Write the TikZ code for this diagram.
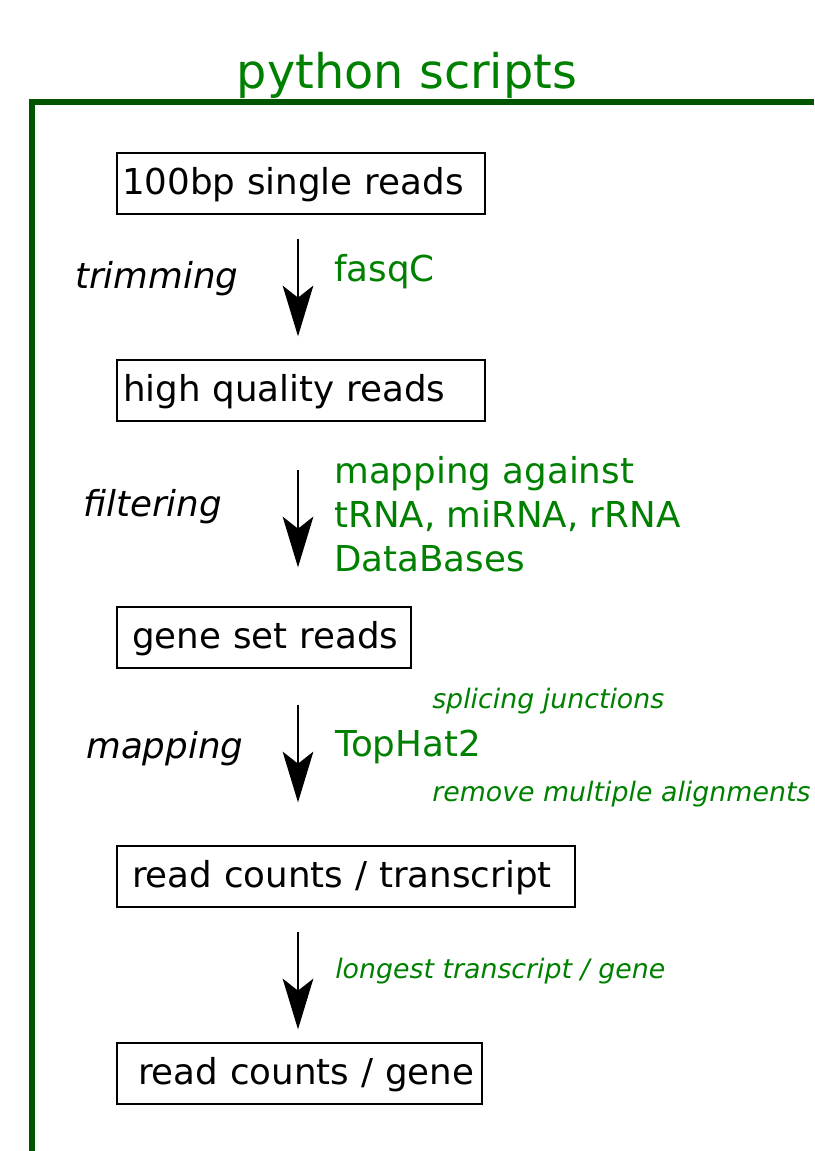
\documentclass[tikz,border=0pt]{standalone}
\usepackage{fontspec}
\setmainfont{DejaVu Sans}
\usetikzlibrary{arrows.meta}

\definecolor{framegreen}{RGB}{0,85,0}
\definecolor{notegreen}{RGB}{0,128,0}

\tikzset{
  stepbox/.style={draw=black, line width=1.5pt, anchor=north west,
    inner xsep=0pt, inner ysep=0pt, align=left,
    minimum height=45.75pt, text height=20pt, text depth=4.2pt,
    font=\fontsize{26.75pt}{32pt}\selectfont},
  flow/.style={draw=black, line width=1.5pt,
    -{Stealth[length=38pt, width=23pt, inset=9pt]}},
  stepname/.style={anchor=base west, inner sep=0pt,
    font=\fontsize{26.75pt}{32pt}\selectfont\itshape},
  tool/.style={anchor=base west, inner sep=0pt, text=notegreen,
    font=\fontsize{26.75pt}{33pt}\selectfont},
  toolnote/.style={anchor=base west, inner sep=0pt, text=notegreen,
    font=\fontsize{20.1pt}{24pt}\selectfont\itshape},
  frameline/.style={draw=framegreen, line width=4.5pt}
}

\begin{document}
\begin{tikzpicture}[x=0.75pt, y=-0.75pt]
  \useasboundingbox (0,0) rectangle (814,1151);

  % enclosing frame and its title
  \draw[frameline] (814,102) -- (31.5,102) -- (31.5,1151);
  \node[anchor=base, inner sep=0pt, text=notegreen,
        font=\fontsize{35.8pt}{40pt}\selectfont] (title) at (407,89) {python scripts};

  % pipeline stages
  \node[stepbox, text width=276pt]    (raw)  at (116,152)  {\hspace*{3.75pt}100bp single reads};
  \node[stepbox, text width=276pt]    (hq)   at (116,359)  {\hspace*{4.5pt}high quality reads};
  \node[stepbox, text width=220.5pt]  (gene) at (116,606)  {\hspace*{11.25pt}gene set reads};
  \node[stepbox, text width=343.5pt]  (rct)  at (116,845)  {\hspace*{11.25pt}read counts / transcript};
  \node[stepbox, text width=273.75pt] (rcg)  at (116,1042) {\hspace*{15.75pt}read counts / gene};

  % arrows between stages
  \coordinate (ax) at (298,0);
  \draw[flow, shorten <=18pt, shorten >=17pt]   (raw.south -| ax)  -- (hq.north -| ax);
  \draw[flow, shorten <=36pt, shorten >=29pt]   (hq.south -| ax)   -- (gene.north -| ax);
  \draw[flow, shorten <=27pt, shorten >=32pt]   (gene.south -| ax) -- (rct.north -| ax);
  \draw[flow, shorten <=18pt, shorten >=9.5pt]  (rct.south -| ax)  -- (rcg.north -| ax);

  % step names
  \node[stepname] (trim)  at (75,289)  {trimming};
  \node[stepname] (filt)  at (83,516)  {filtering};
  \node[stepname] (mapst) at (86,758)  {mapping};

  % tools and notes
  \node[tool] (fastqc) at (334,282) {fasqC};
  \node[tool] (dbmap)  at (334,483) {\begin{tabular}[t]{@{}l@{}}mapping against\\tRNA, miRNA, rRNA\\DataBases\end{tabular}};
  \node[tool] (tophat) at (335,756) {TopHat2};
  \node[toolnote] (splice) at (432,708) {splicing junctions};
  \node[toolnote] (multi)  at (432,801) {remove multiple alignments};
  \node[toolnote] (longest) at (335,978) {longest transcript / gene};
\end{tikzpicture}
\end{document}
